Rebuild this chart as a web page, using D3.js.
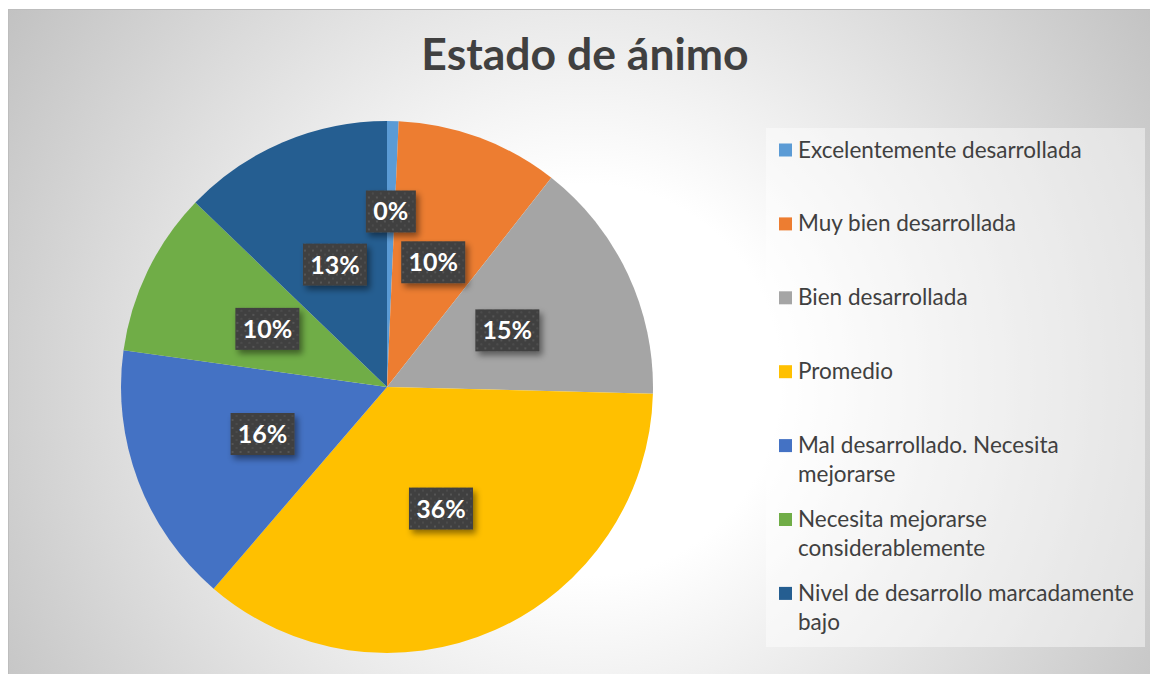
<!DOCTYPE html>
<html>
  <head>
    <meta charset="utf-8">
    <title>Estado de ánimo</title>
    <script src="https://d3js.org/d3.v7.min.js"></script>
    <style>
      body { margin: 0; background: #fff; }
      text { font-family: Lato, "Open Sans", sans-serif; }
    </style>
  </head>
  <body>
    <script>

    // data
    var categories = [
      'Excelentemente desarrollada',
      'Muy bien desarrollada',
      'Bien desarrollada',
      'Promedio',
      'Mal desarrollado. Necesita mejorarse',
      'Necesita mejorarse considerablemente',
      'Nivel de desarrollo marcadamente bajo'
    ];
    var values = [0.7, 9.9, 14.8, 35.9, 15.9, 10.0, 12.8];
    var pctLabels = ['0%', '10%', '15%', '36%', '16%', '10%', '13%'];
    var colors = ['#5B9BD5', '#ED7D31', '#A5A5A5', '#FFC000', '#4472C4', '#70AD47', '#255E91'];

    // label distance from centre (fraction of radius), the tiny slice is pushed out
    var labelPos = [0.66, 0.5, 0.5, 0.5, 0.5, 0.5, 0.5];

    var width = 1150;
    var height = 674;
    var cx = 387, cy = 387, radius = 266;

    var svg = d3.select('body')
      .append('svg')
      .attr('width', width)
      .attr('height', height);

    var defs = svg.append('defs');

    var bg = defs.append('radialGradient')
      .attr('id', 'bg')
      .attr('gradientUnits', 'userSpaceOnUse')
      .attr('cx', 585).attr('cy', 380).attr('r', 700);
    bg.append('stop').attr('offset', 0).attr('stop-color', '#ffffff');
    bg.append('stop').attr('offset', 0.28).attr('stop-color', '#ffffff');
    bg.append('stop').attr('offset', 1).attr('stop-color', '#c0c0c0');

    var pat = defs.append('pattern')
      .attr('id', 'dots')
      .attr('patternUnits', 'userSpaceOnUse')
      .attr('width', 8).attr('height', 8);
    pat.append('rect').attr('width', 8).attr('height', 8).attr('fill', '#404040');
    pat.append('rect').attr('x', 1).attr('y', 1).attr('width', 2).attr('height', 2).attr('fill', '#555555');
    pat.append('rect').attr('x', 5).attr('y', 5).attr('width', 2).attr('height', 2).attr('fill', '#4c4c4c');

    var shadow = defs.append('filter')
      .attr('id', 'shadow')
      .attr('x', '-30%').attr('y', '-30%')
      .attr('width', '160%').attr('height', '160%');
    shadow.append('feDropShadow')
      .attr('dx', 3).attr('dy', 4)
      .attr('stdDeviation', 3)
      .attr('flood-color', '#000')
      .attr('flood-opacity', 0.45);

    // chart area
    svg.append('rect')
      .attr('x', 8.5).attr('y', 9.5)
      .attr('width', width).attr('height', height)
      .attr('fill', 'url(#bg)')
      .attr('stroke', '#bdbdbd');

    svg.append('text')
      .attr('x', 585)
      .attr('y', 70)
      .attr('text-anchor', 'middle')
      .style('font-size', '44.5px')
      .style('font-weight', 'bold')
      .style('fill', '#404040')
      .text('Estado de ánimo');

    // pie
    var pie = d3.pie().sort(null).value(function(d) { return d; });
    var arcs = pie(values);
    var arc = d3.arc().innerRadius(0).outerRadius(radius);

    var g = svg.append('g').attr('transform', 'translate(' + cx + ',' + cy + ')');

    g.selectAll('.slice')
      .data(arcs)
      .enter().append('path')
      .attr('class', 'slice')
      .attr('d', arc)
      .attr('fill', function(d, i) { return colors[i]; });

    var labels = g.selectAll('.lbl')
      .data(arcs)
      .enter().append('g')
      .attr('class', 'lbl')
      .attr('transform', function(d, i) {
        var a = (d.startAngle + d.endAngle) / 2;
        var r = radius * labelPos[i];
        return 'translate(' + (Math.sin(a) * r) + ',' + (-Math.cos(a) * r) + ')';
      });

    labels.append('rect')
      .attr('x', function(d, i) { return pctLabels[i].length > 2 ? -32 : -25; })
      .attr('y', -21)
      .attr('width', function(d, i) { return pctLabels[i].length > 2 ? 64 : 50; })
      .attr('height', 42)
      .attr('fill', 'url(#dots)')
      .attr('filter', 'url(#shadow)');

    labels.append('text')
      .attr('text-anchor', 'middle')
      .attr('y', 9)
      .style('font-size', '25px')
      .style('font-weight', 'bold')
      .style('fill', '#ffffff')
      .text(function(d, i) { return pctLabels[i]; });

    // legend
    svg.append('rect')
      .attr('x', 766).attr('y', 128)
      .attr('width', 379).attr('height', 519)
      .attr('fill', '#ffffff')
      .attr('fill-opacity', 0.45);

    var legend = svg.selectAll('.leg')
      .data(categories)
      .enter().append('g')
      .attr('class', 'leg')
      .attr('transform', function(d, i) { return 'translate(779,' + (150 + i * 73.9) + ')'; });

    legend.append('rect')
      .attr('x', 0).attr('y', -6.5)
      .attr('width', 13).attr('height', 13)
      .attr('fill', function(d, i) { return colors[i]; });

    legend.append('text')
      .attr('x', 19)
      .attr('y', 7.5)
      .style('font-size', '22.5px')
      .style('fill', '#404040')
      .each(function(d) {
        var t = d3.select(this);
        var words = d.split(' ');
        var line = [];
        var tspan = t.append('tspan').attr('x', 19).attr('dy', 0);
        words.forEach(function(w) {
          line.push(w);
          tspan.text(line.join(' '));
          if (tspan.node().getComputedTextLength() > 345 && line.length > 1) {
            line.pop();
            tspan.text(line.join(' '));
            line = [w];
            tspan = t.append('tspan').attr('x', 19).attr('dy', 29).text(w);
          }
        });
      });

    </script>
  </body>
</html>
